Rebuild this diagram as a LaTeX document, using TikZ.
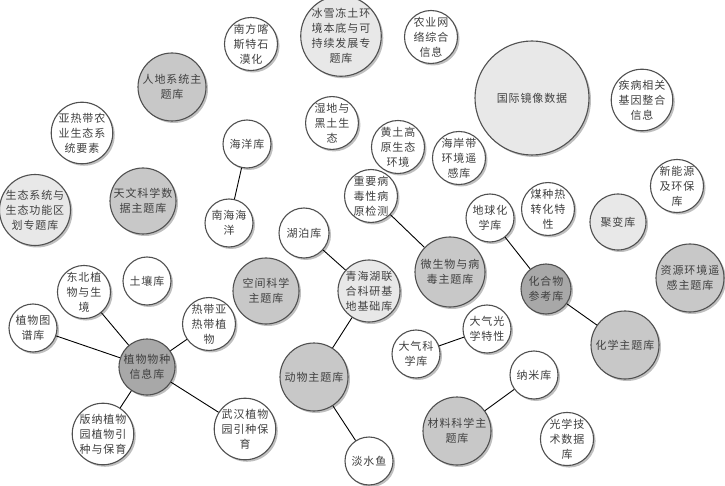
\documentclass[tikz,border=0pt]{standalone}
\usepackage{fontspec}
\newfontfamily\cjk[LetterSpace=8]{Noto Sans CJK SC}
\usetikzlibrary{shadows}
\definecolor{midg}{HTML}{C8C8C8}
\definecolor{lightg}{HTML}{E8E8E8}
\definecolor{darkg}{HTML}{A8A8A8}
\definecolor{rimg}{HTML}{505050}
\tikzset{
  bub/.style={circle, draw=rimg, line width=1.1pt, fill=white, inner sep=0pt,
    minimum size=#1, align=center, text=black!75,
    font=\cjk\fontsize{11}{15}\selectfont,
    drop shadow={shadow xshift=2pt, shadow yshift=-2pt, fill=black!25, opacity=1}},
  mid/.style={fill=midg},
  light/.style={fill=lightg},
  dark/.style={fill=darkg},
  link/.style={draw=black, line width=0.9pt}
}
\begin{document}
\begin{tikzpicture}[x=1pt, y=-1pt]
\useasboundingbox (0,0) rectangle (725,486);
% top row
\node[bub=52pt] (nfk) at (251,44) {南方喀\\斯特石\\漠化};
\node[bub=68pt, light] (bxd) at (341,36) {冰雪冻土环\\境本底与可\\持续发展专\\题库};
\node[bub=50pt] (nywl) at (431,37) {农业网\\络综合\\信息};
\node[bub=114pt, light] (gjjx) at (532,98) {国际镜像数据};
\node[bub=54pt] (jbxg) at (642,100) {疾病相关\\基因整合\\信息};
\node[bub=68pt, mid] (rdxt) at (172,87) {人地系统主\\题库};
\node[bub=54pt] (yrd) at (82,133) {亚热带农\\业生态系\\统要素};
\node[bub=48pt] (hyk) at (247,144) {海洋库};
\node[bub=50pt] (sdyh) at (332,123) {湿地与\\黑土生\\态};
\node[bub=50pt] (htgy) at (398,147) {黄土高\\原生态\\环境};
\node[bub=48pt] (hadt) at (459,158) {海岸带\\环境遥\\感库};
% middle
\node[bub=66pt, mid] (twkx) at (143,201) {天文科学数\\据主题库};
\node[bub=66pt, light] (stxt) at (35,210) {生态系统与\\生态功能区\\划专题库};
\node[bub=48pt] (nhhy) at (229,223) {南海海\\洋};
\node[bub=50pt] (hbk) at (304,233) {湖泊库};
\node[bub=48pt] (zybd) at (371,196) {重要病\\毒性病\\原检测};
\node[bub=48pt] (trk) at (147,281) {土壤库};
\node[bub=48pt] (dbzw) at (84,292) {东北植\\物与生\\境};
\node[bub=66pt, mid] (kjkx) at (266,291) {空间科学\\主题库};
\node[bub=62pt, light] (qhh) at (369,291) {青海湖联\\合科研基\\地基础库};
\node[bub=70pt, mid] (wsw) at (450,272) {微生物与病\\毒主题库};
\node[bub=48pt] (dqhx) at (490,218) {地球化\\学库};
\node[bub=48pt] (mzr) at (548,209) {煤种热\\转化特\\性};
\node[bub=56pt, light] (jbk) at (618,222) {聚变库};
\node[bub=48pt] (xny) at (677,186) {新能源\\及环保\\库};
\node[bub=68pt, mid] (zyhj) at (690,278) {资源环境遥\\感主题库};
\node[bub=50pt, dark] (hhw) at (546,289) {化合物\\参考库};
\node[bub=68pt, mid] (hxzt) at (625,345) {化学主题库};
% bottom
\node[bub=48pt] (zwtp) at (33,328) {植物图\\谱库};
\node[bub=48pt] (rdyr) at (209,324) {热带亚\\热带植\\物};
\node[bub=56pt, dark] (zwwz) at (147,367) {植物物种\\信息库};
\node[bub=56pt] (bnzw) at (103,434) {版纳植物\\园植物引\\种与保育};
\node[bub=52pt] (whzw) at (245,429) {武汉植物\\园引种保\\育};
\node[bub=68pt, mid] (dwzt) at (314,377) {动物主题库};
\node[bub=48pt] (dsy) at (369,461) {淡水鱼};
\node[bub=48pt] (dqkx) at (416,354) {大气科\\学库};
\node[bub=48pt] (dqgx) at (487,329) {大气光\\学特性};
\node[bub=48pt] (nmk) at (534,375) {纳米库};
\node[bub=68pt, mid] (clkx) at (457,431) {材料科学主\\题库};
\node[bub=48pt] (gxjs) at (567,439) {光学技\\术数据\\库};
% links
\draw[link] (hyk) -- (nhhy);
\draw[link] (hbk) -- (qhh);
\draw[link] (qhh) -- (dwzt);
\draw[link] (dwzt) -- (dsy);
\draw[link] (zybd) -- (wsw);
\draw[link] (dqhx) -- (hhw);
\draw[link] (hhw) -- (hxzt);
\draw[link] (dqkx) -- (dqgx);
\draw[link] (nmk) -- (clkx);
\draw[link] (zwwz) -- (dbzw);
\draw[link] (zwwz) -- (zwtp);
\draw[link] (zwwz) -- (rdyr);
\draw[link] (zwwz) -- (bnzw);
\draw[link] (zwwz) -- (whzw);
\end{tikzpicture}
\end{document}
